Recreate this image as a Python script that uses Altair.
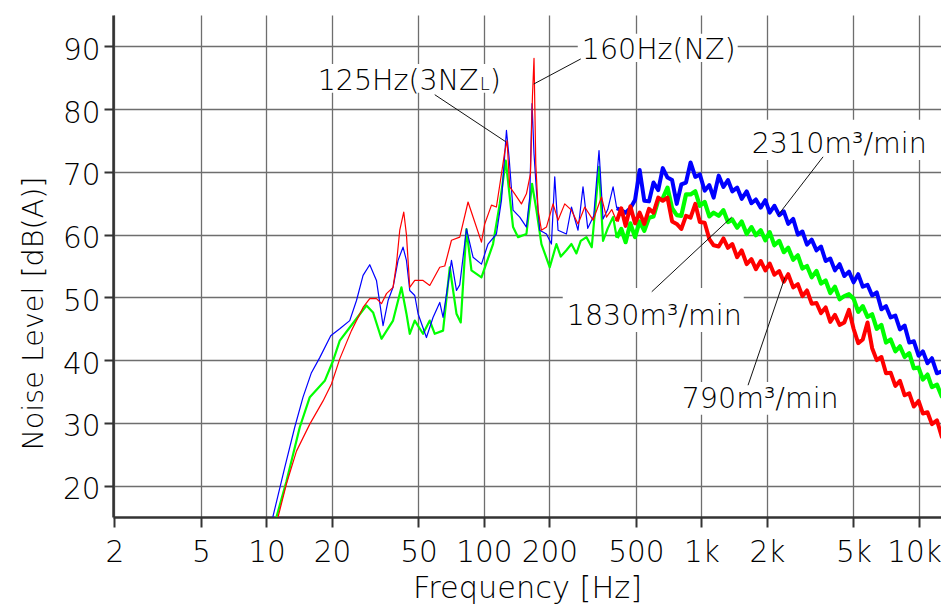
import altair as alt
import pandas as pd

FONT = "DejaVu Sans"
FONT_WEIGHT = 200

# ---------------- data ----------------
BLUE_LF_F = [10.7, 12.14, 13.49, 14.73, 16.1, 17.58, 19.75, 21.73, 24.15, 25.94, 27.81, 29.85, 32.05, 34.37,
             36.24, 38.2, 40.28, 42.46, 44.02, 45.59, 48.07, 49.78, 54.4, 58.32, 62.64, 64.87, 70.9, 74.76,
             77.4, 83.09, 89.11, 97.39, 104.4, 114.1, 120.4, 126.9, 130.4, 136.1, 146.1, 156.8, 162.4, 166.4,
             169.9, 174.3, 180.5, 193.8, 204.3, 211.6, 219.1, 239.4, 252.5, 270.7, 285.4, 300.1, 319.8, 338.1,
             352.8, 370.8, 392.4]
BLUE_LF_DB = [15.0, 22.9, 29.3, 34.1, 38.0, 40.4, 43.9, 45.0, 46.3, 49.5, 53.5, 55.2, 52.7, 45.5,
              49.5, 51.6, 55.9, 58.0, 55.9, 51.1, 50.3, 47.4, 43.6, 46.8, 49.2, 46.8, 55.9, 51.1,
              52.0, 60.9, 56.4, 55.3, 58.5, 60.1, 65.5, 76.6, 72.4, 63.9, 62.8, 61.2, 66.0, 80.9,
              72.9, 67.0, 60.7, 60.1, 58.5, 69.2, 60.7, 60.1, 64.4, 60.7, 67.6, 61.0, 63.0, 73.4,
              62.5, 64.0, 67.6]

GREEN_LF_F = [11.12, 12.36, 14.23, 15.82, 18.54, 20.24, 21.73, 24.15, 28.83, 30.92, 33.79, 38.2, 41.75,
              44.02, 45.59, 48.07, 52.48, 56.35, 59.41, 64.87, 69.64, 74.76, 78.22, 83.09, 87.6, 97.39,
              110.1, 118.2, 126.0, 131.4, 136.1, 143.5, 156.8, 166.4, 174.3, 183.8, 200.7, 215.4, 225.5,
              239.4, 252.5, 266.2, 278.6, 296.0, 313.1, 338.1, 352.8, 370.8, 392.4]
GREEN_LF_DB = [15.0, 20.7, 29.3, 34.1, 36.7, 39.9, 43.1, 45.2, 48.7, 47.6, 43.4, 46.3, 51.6,
               47.4, 44.2, 46.3, 44.2, 46.3, 44.2, 44.7, 54.8, 47.4, 46.0, 60.9, 54.3, 53.2,
               58.5, 64.9, 71.8, 66.0, 61.2, 59.6, 60.1, 68.1, 63.9, 58.5, 54.8, 58.5, 56.5,
               57.5, 58.5, 57.0, 59.0, 59.6, 58.0, 70.8, 59.0, 61.0, 62.8]

RED_LF_F = [11.31, 12.36, 13.74, 15.82, 18.21, 19.9, 21.73, 24.59, 27.81, 29.85, 32.05, 33.79, 35.63,
            38.2, 39.6, 41.01, 42.78, 44.02, 45.59, 48.07, 52.48, 56.35, 62.64, 66.05, 70.9, 77.4,
            84.51, 89.11, 97.39, 100.8, 108.3, 114.1, 120.4, 124.6, 127.7, 131.4, 138.5, 148.7, 156.8,
            163.6, 167.1, 169.9, 173.1, 177.4, 183.8, 193.8, 207.8, 219.1, 235.2, 252.5, 270.7, 290.7,
            317.5, 347.0, 365.9, 386.9]
RED_LF_DB = [15.0, 20.3, 25.5, 29.8, 33.5, 36.2, 40.2, 44.7, 48.4, 49.8, 49.8, 49.0, 50.6,
             51.6, 55.3, 60.7, 63.6, 60.0, 51.6, 52.7, 52.7, 51.9, 54.8, 55.0, 59.1, 59.6,
             65.2, 62.8, 58.8, 61.7, 64.7, 64.4, 69.7, 73.2, 75.0, 67.6, 66.5, 64.9, 66.5,
             69.7, 82.0, 88.1, 71.3, 63.9, 60.7, 61.2, 64.9, 62.3, 64.9, 63.9, 61.7, 64.4,
             62.3, 66.0, 62.8, 64.0]

HF_F = [408, 428, 448, 471, 495, 520, 546, 574, 602, 633, 664, 698, 733, 770, 808, 849, 891, 937,
        983, 1035, 1087, 1138, 1200, 1262, 1324, 1386, 1459, 1531, 1614, 1697, 1780, 1873, 1967, 2060,
        2164, 2278, 2392, 2506, 2641, 2776, 2912, 3057, 3213, 3380, 3547, 3724, 3911, 4109, 4318, 4537,
        4767, 5006, 5257, 5518, 5801, 6093, 6397, 6721, 7056, 7412, 7790, 8177, 8596, 9025, 9477, 9960,
        10422, 10947, 11473, 12103, 12733, 13200]
BLUE_HF_DB = [64.2, 63.9, 63.5, 64.2, 65.5, 70.3, 65.4, 65.3, 68.3, 67.1,
              70.6, 69.1, 68.7, 64.9, 68.0, 68.3, 71.5, 69.2, 69.6, 67.0,
              67.9, 65.9, 69.4, 67.6, 68.7, 66.9, 67.5, 65.7, 66.9, 65.0,
              65.6, 64.3, 65.5, 63.5, 64.6, 63.1, 63.7, 61.7, 62.5, 60.0,
              60.5, 58.4, 59.2, 57.5, 58.1, 55.8, 56.2, 54.3, 55.3, 53.4,
              54.1, 52.4, 53.7, 51.7, 52.0, 50.3, 50.8, 48.1, 48.6, 46.8,
              47.1, 44.9, 45.5, 42.8, 43.0, 40.7, 41.4, 39.5, 40.3, 37.9,
              38.2, 37.0]
GREEN_HF_DB = [59.5, 60.9, 58.8, 61.8, 59.6, 62.1, 60.6, 62.7, 62.9, 65.5,
               65.8, 67.5, 64.2, 63.1, 63.0, 66.4, 66.4, 66.9, 64.6, 65.2,
               62.9, 63.5, 63.0, 63.9, 62.0, 62.4, 61.1, 62.1, 60.1, 61.2,
               59.9, 60.7, 59.1, 60.4, 58.3, 59.0, 57.2, 57.9, 56.0, 56.7,
               54.6, 55.0, 53.2, 54.2, 52.2, 52.7, 50.7, 51.7, 49.7, 50.2,
               50.5, 49.8, 47.7, 48.6, 46.9, 47.3, 45.0, 45.6, 42.8, 43.3,
               41.4, 42.2, 40.5, 41.1, 38.7, 38.8, 36.9, 37.7, 35.7, 36.1,
               34.2, 35.2]
RED_HF_DB = [62.1, 64.2, 61.4, 64.5, 61.8, 63.5, 61.7, 64.1, 63.5, 65.9,
             65.4, 65.9, 62.1, 61.7, 60.9, 63.0, 62.7, 64.9, 62.0, 61.9,
             59.3, 58.3, 58.1, 59.4, 57.9, 58.5, 56.4, 57.5, 55.3, 56.1,
             54.5, 55.8, 54.3, 55.4, 53.6, 54.2, 52.5, 53.7, 51.6, 52.1,
             50.2, 51.1, 49.0, 49.1, 47.5, 48.4, 46.1, 47.2, 45.6, 46.0,
             48.0, 45.0, 42.7, 43.3, 46.0, 41.9, 40.0, 40.5, 37.9, 38.0,
             35.9, 36.7, 34.4, 34.7, 32.6, 33.5, 31.5, 31.7, 29.8, 30.4,
             27.8, 28.8]

X_TICKS = [2, 5, 10, 20, 50, 100, 200, 500, 1000, 2000, 5000, 10000]
X_TICK_LABELS = ["2", "5", "10", "20", "50", "100", "200", "500", "1k", "2k", "5k", "10k"]
Y_TICKS = [20, 30, 40, 50, 60, 70, 80, 90]

ANNOT_TEXT = ["160Hz(NZ)", "125Hz(3NZ", "2310m³/min", "1830m³/min", "790m³/min"]
ANNOT_F = [281.6, 17.2, 1703, 240.3, 811.7]
ANNOT_DB = [88.0, 83.05, 73.0, 45.6, 32.4]

LEADER_F1 = [59.4, 278.7, 3624, 590.9, 1638]
LEADER_DB1 = [82.3, 88.0, 72.4, 50.9, 36.0]
LEADER_F2 = [126.0, 169.4, 2250, 1378, 2415]
LEADER_DB2 = [74.8, 84.0, 63.1, 62.8, 53.1]

BOX_F1 = [270, 16.7, 1616, 230.3, 778]
BOX_F2 = [1468, 117, 11210, 1565, 4233]
BOX_DB1 = [92.0, 87.2, 78.3, 51.5, 36.5]
BOX_DB2 = [87.5, 82.6, 71.9, 44.5, 31.3]

# ---------------- build chart ----------------
label_expr = ("[" + ",".join("'%s'" % l for l in X_TICK_LABELS) + "][indexof(["
              + ",".join(str(v) for v in X_TICKS) + "], datum.value)]")

x_axis = alt.Axis(values=X_TICKS, labelExpr=label_expr, title="Frequency [Hz]", grid=True,
                  tickSize=10, labelPadding=11, labelFlush=False, labelOverlap=False,
                  labelOffset={"condition": {"test": "datum.value == %d" % X_TICKS[-1], "value": -5},
                               "value": 0},
                  titleY=80, titleBaseline="alphabetic", titleFontSize=30.4)
y_axis = alt.Axis(values=Y_TICKS, title="Noise Level [dB(A)]", grid=True, tickSize=9,
                  labelPadding=4, labelOffset=4, titleX=-71, titleY=298, titleAngle=270,
                  titleBaseline="alphabetic", titleAlign="center", labelOverlap=False,
                  titleFontSize=28.6)

xs = alt.Scale(type="log", domain=[1.97, 12630])
ys = alt.Scale(domain=[15, 95])


def X(field):
    return alt.X(field, type="quantitative", scale=xs, axis=x_axis)


def Y(field):
    return alt.Y(field, type="quantitative", scale=ys, axis=y_axis)


boxes = alt.Chart(pd.DataFrame({"f1": BOX_F1, "f2": BOX_F2, "d1": BOX_DB1, "d2": BOX_DB2})).mark_rect(
    fill="white").encode(x=X("f1"), x2="f2", y=Y("d1"), y2="d2")

series = [
    ("green", "#00ff00", GREEN_LF_F, GREEN_LF_DB, GREEN_HF_DB, 2.2, 4.2),
    ("blue", "#0000ff", BLUE_LF_F, BLUE_LF_DB, BLUE_HF_DB, 1.2, 4.0),
    ("red", "#ff0000", RED_LF_F, RED_LF_DB, RED_HF_DB, 1.2, 4.0),
]
line_layers = []
for name, col, lf_f, lf_db, hf_db, w_lo, w_hi in series:
    lo = pd.DataFrame({"f": lf_f + HF_F[:1], "db": lf_db + hf_db[:1]})
    hi = pd.DataFrame({"f": HF_F, "db": hf_db})
    line_layers.append(alt.Chart(lo).mark_line(color=col, strokeWidth=w_lo, clip=True,
                                               strokeJoin="round").encode(x=X("f"), y=Y("db")))
    line_layers.append(alt.Chart(hi).mark_line(color=col, strokeWidth=w_hi, clip=True,
                                               strokeJoin="round").encode(x=X("f"), y=Y("db")))

leaders = alt.Chart(pd.DataFrame({"f1": LEADER_F1, "f2": LEADER_F2, "d1": LEADER_DB1, "d2": LEADER_DB2})
                    ).mark_rule(color="#111111", strokeWidth=1).encode(x=X("f1"), x2="f2", y=Y("d1"), y2="d2")

ann_df = pd.DataFrame({"f": ANNOT_F, "db": ANNOT_DB, "t": ANNOT_TEXT})
texts = alt.Chart(ann_df).mark_text(align="left", baseline="alphabetic", font=FONT, fontSize=28.5,
                                     fontWeight=FONT_WEIGHT, color="#000000").encode(
    x=X("f"), y=Y("db"), text="t:N")

sub_df = pd.DataFrame({"f": ANNOT_F[1:2], "db": ANNOT_DB[1:2], "t": ["L"]})
sub_l = alt.Chart(sub_df).mark_text(align="left", baseline="alphabetic", font=FONT, fontSize=18,
                                    fontWeight=FONT_WEIGHT, color="#000000", dx=162).encode(
    x=X("f"), y=Y("db"), text="t:N")
par_df = pd.DataFrame({"f": ANNOT_F[1:2], "db": ANNOT_DB[1:2], "t": [")"]})
paren = alt.Chart(par_df).mark_text(align="left", baseline="alphabetic", font=FONT, fontSize=28.5,
                                    fontWeight=FONT_WEIGHT, color="#000000", dx=172).encode(
    x=X("f"), y=Y("db"), text="t:N")

chart = alt.layer(boxes, *line_layers, leaders, texts, sub_l, paren).properties(
    width=828, height=502,
    padding={"left": 105, "top": 7, "right": 0, "bottom": 87},
    autosize=alt.AutoSizeParams(type="none"),
).configure_view(stroke=None).configure_axis(
    domainColor="#333333", domainWidth=2.5, tickColor="#333333", tickWidth=2,
    gridColor="#6e6e6e", gridWidth=1.3,
    labelFont=FONT, labelFontSize=29.5, labelFontWeight=FONT_WEIGHT, labelColor="#000000",
    titleFont=FONT, titleFontWeight=FONT_WEIGHT, titleColor="#000000",
)

chart.save("out.html", embed_options={"renderer": "svg", "actions": False})
